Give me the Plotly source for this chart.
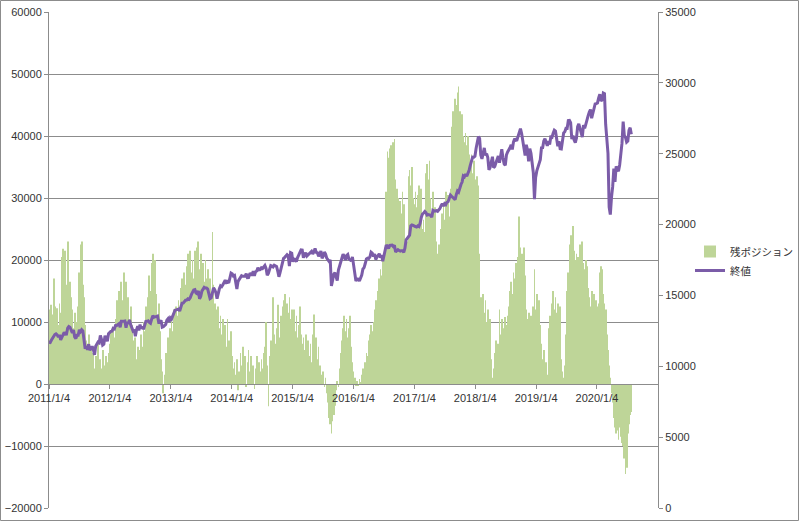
import pandas as pd
import plotly.graph_objects as go

# ---------------- data (weekly, Tuesdays from 2011/1/4) ----------------
start_date = "2011-01-04"

pos_2011 = [12000, 10500, 12800, 11200, 17000, 12500, 10000, 12200, 9500, 13000,
            11500, 20500, 21800, 15500, 21500, 16000, 23000, 15000, 16500, 14000,
            12000, 9000, 11500, 8500, 10000, 12500, 18000, 22500, 23000, 16000,
            14000, 9500, 7000, 5500, 8000, 4500, 6000, 3500, 5000, 2500,
            4500, 3000, 6500, 2800, 4000, 2500, 5500, 3000, 2000, 4500,
            3500, 5000]
pos_2012 = [6500, 8500, 5500, 9000, 7500, 10500, 13500, 12000, 15000, 14000,
            16500, 13500, 18000, 14500, 16500, 12000, 14000, 10500, 12500, 9500,
            7000, 5000, 7500, 4000, 6000, 3000, 5500, 8000, 6000, 10000,
            8500, 12500, 11000, 14000, 17500, 15000, 19500, 21000, 16000, 20000,
            14500, 11000, 13000, 8500, 4000, 2000, -1500, 1500, 5000, 3000,
            7500, 6000]
pos_2013 = [9000, 11000, 8500, 12000, 10000, 12500, 11000, 13500, 12000, 15500,
            17000, 14500, 18000, 16000, 19000, 21000, 17500, 21500, 18000, 20000,
            17000, 21500, 19000, 22000, 23000, 18500, 21000, 17500, 19500, 16500,
            20000, 17000, 18500, 15000, 17000, 14000, 24500, 16000, 13000, 12000,
            10000, 12500, 9000, 11000, 8000, 10500, 7500, 9500, 6000, 10500,
            7000, 5000, 8500]
pos_2014 = [4500, 2500, 3500, 1500, 4000, -1000, 2000, 5000, 3000, 6000,
            2500, 4500, -500, 3500, 5500, 2000, 4500, 1000, 3000, -800,
            2500, 4500, 1500, 3500, 2000, 4000, 2500, 5000, 6000, 10000,
            3000, -3600, 4500, 7000, 5500, 14000, 8000, 6500, 9000, 12800,
            7500, 6000, 11000, 12500, 13500, 14500, 12000, 13000, 11500, 14000,
            10500, 12000]
pos_2015 = [10000, 12000, 8500, 11000, 7500, 9500, 12500, 8000, 6500, 7500,
            5500, 8000, 6000, 7000, 4500, 6500, 3500, 8000, 11200, 5000,
            7500, 4000, 6000, 3000, 1500, 500, 2000, -500, 1000, -1500,
            -3000, -5500, -6500, -8000, -6000, -5000, -3500, -1000, 500, -500,
            2500, 5000, 7000, 9000, 11000, 8500, 10500, 7500, 9000, 11000,
            6000, 3500]
pos_2016 = [2000, 1000, -300, 500, -200, 800, 300, 1500, 2500, 1800,
            3500, 5000, 4500, 7000, 8000, 9500, 8500, 10000, 12000, 13500,
            12500, 15000, 17000, 18500, 17500, 20000, 19000, 22000, 31000, 37500,
            36500, 38000, 38500, 37000, 39000, 39500, 33000, 31500, 30000, 28000,
            29500, 27500, 31000, 29000, 22500, 20500, 23000, 33500, 34500, 32000,
            35000, 30000]
pos_2017 = [29000, 31000, 28500, 30500, 32000, 29500, 31500, 25000, 26500, 24500,
            34000, 35500, 33000, 36000, 30000, 27000, 31000, 26000, 28500, 23000,
            21000, 22500, 20500, 25000, 27500, 29000, 26500, 31000, 28000, 30500,
            27000, 31500, 41500, 44000, 43000, 46000, 45000, 47000, 48000, 44000,
            41000, 43500, 40000, 39000, 40500, 38500, 40000, 37000, 35500, 37000,
            34000, 36000]
pos_2018 = [33000, 31500, 33500, 32000, 21000, 14000, 12500, 14500, 11500, 13500,
            10000, 12000, 9000, 10500, 4000, 1000, 2500, 5000, 7000, 4500,
            6500, 12000, 8000, 10500, 9000, 7800, 10800, 9500, 11000, 12500,
            15000, 16500, 14500, 18000, 17000, 19500, 18500, 20500, 27000, 22000,
            21000, 19000, 22000, 17500, 12000, 10500, 11500, 9000, 11000, 10000,
            12500, 18500]
pos_2019 = [12000, 14500, 10000, 13500, 9500, 6500, 4000, 5500, 2000, 3500,
            1500, 9000, 11000, 10000, 13000, 15000, 12000, 14000, 11500, 13000,
            10000, 12500, 4000, 2000, 1000, 3000, 8000, 15000, 18000, 22500,
            24000, 22000, 25500, 21500, 20000, 21000, 20500, 19500, 22500, 20000,
            23000, 19500, 18500, 20000, 19000, 15500, 14000, 12500, 15000, 13000,
            14500, 12000, 13500]
pos_2020 = [12500, 13000, 18000, 19000, 18500, 14500, 13000, 12000, 8000, 5500,
            3000, 1000, -1500, -3000, -5500, -7000, -8000, -7500, -9000, -7000,
            -8500, -9500, -10000, -12000, -14500, -13500, -8000, -6500, -5000, -4500]

close_2011 = [11691, 11672, 11838, 11977, 12041, 12240, 12288, 12213, 12058, 12214,
              11856, 12018, 12280, 12394, 12263, 12266, 12690, 12808, 12760, 12479,
              12356, 12570, 12070, 11953, 12190, 12188, 12569, 12447, 12588, 12502,
              11867, 11240, 11406, 11176, 11560, 11139, 11247, 11409, 11191, 10809,
              11416, 11577, 11707, 11658, 12170, 11906, 11494, 11555, 12150, 11955,
              11767, 12291]
close_2012 = [12397, 12462, 12482, 12675, 12633, 12878, 12878, 12966, 13005, 12759,
              13177, 13170, 13197, 13199, 12716, 13115, 13001, 13279, 12932, 12632,
              12503, 12580, 12127, 12574, 12837, 12535, 12943, 12653, 12805, 12617,
              13009, 13168, 13172, 13203, 13102, 13036, 13323, 13564, 13458, 13482,
              13473, 13551, 13102, 13107, 13245, 12756, 12788, 12878, 12951, 13248,
              13350, 13139]
close_2013 = [13412, 13329, 13535, 13780, 13955, 13979, 14019, 14036, 13901, 14254,
              14450, 14456, 14560, 14662, 14673, 14757, 14719, 14840, 15056, 15215,
              15388, 15409, 15177, 15122, 15318, 14760, 14932, 15300, 15451, 15568,
              15521, 15518, 15451, 15002, 14776, 14834, 15191, 15529, 15401, 15191,
              14776, 15168, 15467, 15680, 15618, 15751, 15967, 16072, 15914, 15973,
              15875, 16357, 16577]
close_2014 = [16530, 16374, 16414, 15929, 15445, 15994, 16130, 16179, 16395, 16351,
              16337, 16367, 16533, 16256, 16263, 16514, 16535, 16401, 16715, 16375,
              16675, 16722, 16945, 16808, 16818, 16956, 16906, 17060, 17113, 16912,
              16430, 16560, 16919, 17107, 17067, 17014, 17131, 17056, 17043, 16719,
              16315, 16614, 17005, 17384, 17614, 17687, 17815, 17879, 17801, 17068,
              18024, 17983]
close_2015 = [17371, 17614, 17515, 17387, 17666, 17868, 18047, 18209, 18203, 17662,
              17849, 18011, 17776, 17875, 17977, 18034, 18110, 17928, 18068, 18312,
              18041, 18011, 17764, 17904, 18144, 17619, 17776, 18053, 17920, 17631,
              17550, 17402, 17512, 15666, 16058, 16492, 16600, 16330, 16049, 16790,
              17081, 17217, 17581, 17918, 17758, 17489, 17812, 17888, 17568, 17524,
              17418, 17720]
close_2016 = [17158, 16516, 16016, 16167, 16153, 16014, 16196, 16431, 16865, 16964,
              17251, 17582, 17633, 17603, 17721, 18053, 17990, 17750, 17928, 17530,
              17706, 17787, 17938, 17675, 17830, 17410, 17841, 18347, 18559, 18473,
              18313, 18533, 18552, 18547, 18454, 18538, 18066, 18129, 18228, 18168,
              18129, 18162, 18169, 18037, 18332, 18923, 19023, 19121, 19251, 19911,
              19974, 19945]
close_2017 = [19882, 19855, 19826, 19912, 19864, 20090, 20504, 20744, 20812, 20924,
              20837, 20668, 20701, 20689, 20651, 20523, 20996, 20950, 20975, 20980,
              20937, 21029, 21136, 21328, 21467, 21310, 21479, 21409, 21574, 21613,
              21964, 22085, 21998, 21899, 21865, 21753, 22118, 22370, 22284, 22641,
              22831, 22997, 23441, 23377, 23557, 23409, 23590, 23836, 24180, 24505,
              24754, 24746]
close_2018 = [24824, 25385, 25793, 26211, 26077, 24913, 24640, 24964, 25410, 24884,
              25007, 24727, 23858, 24034, 24408, 24787, 24025, 24100, 24361, 24706,
              24834, 24361, 24799, 25320, 24701, 24284, 24175, 24920, 25120, 25241,
              25415, 25628, 25300, 25822, 26064, 25952, 25971, 26246, 26492, 26773,
              26430, 25798, 25191, 24874, 25635, 25286, 24465, 25366, 25027, 24370,
              23675, 21792]
close_2019 = [23327, 23787, 24065, 24404, 24579, 25411, 25425, 25891, 26057, 25806,
              25554, 25887, 25657, 26179, 26150, 26452, 26656, 26592, 25965, 25532,
              25877, 25347, 25332, 26048, 26465, 26548, 26786, 26783, 27335, 27349,
              27198, 26030, 26280, 25962, 25778, 26118, 26909, 27110, 26808, 26573,
              26165, 27024, 26788, 27071, 27492, 27691, 27934, 28121, 27503, 27881,
              28267, 28515, 28538]
close_2020 = [28584, 28940, 29197, 28723, 28808, 29276, 29232, 27082, 25917, 25018,
              21237, 20704, 21917, 22654, 23949, 23019, 24101, 23883, 23765, 24207,
              24995, 25742, 27272, 26290, 26156, 25813, 25890, 26643, 26840, 26380]

tick_dates = ["2011-01-04", "2012-01-04", "2013-01-04", "2014-01-04", "2015-01-04",
              "2016-01-04", "2017-01-04", "2018-01-04", "2019-01-04", "2020-01-04"]
tick_labels = ["2011/1/4", "2012/1/4", "2013/1/4", "2014/1/4", "2015/1/4",
               "2016/1/4", "2017/1/4", "2018/1/4", "2019/1/4", "2020/1/4"]

series_names = ["残ポジション", "終値"]

position = (pos_2011 + pos_2012 + pos_2013 + pos_2014 + pos_2015 + pos_2016
            + pos_2017 + pos_2018 + pos_2019 + pos_2020)
close = (close_2011 + close_2012 + close_2013 + close_2014 + close_2015 + close_2016
         + close_2017 + close_2018 + close_2019 + close_2020)
dates = pd.date_range(start_date, periods=len(position), freq="7D")

# ---------------- figure ----------------
GRID = "#8c8c8c"
TXT = "#333333"
FONT = "Liberation Sans, Arial, sans-serif"

fig = go.Figure()
fig.add_trace(go.Bar(x=dates, y=position, name=series_names[0],
                     marker=dict(color="#bed598", line=dict(width=0)),
                     yaxis="y"))
fig.add_trace(go.Scatter(x=dates, y=close, name=series_names[1], mode="lines",
                         line=dict(color="#7b5ca8", width=3),
                         yaxis="y2"))

L, R, T, B = 49, 142, 12, 14
W, H = 800, 522
pw, ph = W - L - R, H - T - B

fig.update_layout(
    width=W, height=H,
    margin=dict(l=L, r=R, t=T, b=B, pad=0, autoexpand=False),
    paper_bgcolor="white", plot_bgcolor="white",
    bargap=0.35,
    font=dict(family=FONT, size=11, color=TXT),
    xaxis=dict(type="date", range=["2011-01-04", "2021-01-04"],
               tickmode="array", tickvals=tick_dates, ticktext=tick_labels,
               showgrid=False, zeroline=False, automargin=False,
               showline=True, linecolor=GRID, linewidth=1,
               ticks="outside", ticklen=4, tickcolor=GRID,
               anchor="free", position=0.25,
               tickfont=dict(family=FONT, size=11, color=TXT)),
    yaxis=dict(range=[-20000, 60000], dtick=10000, tick0=0, tickformat="d",
               showgrid=True, gridcolor=GRID, gridwidth=1, automargin=False,
               zeroline=False, showline=True, linecolor=GRID, linewidth=1,
               ticks="outside", ticklen=4, tickcolor=GRID,
               tickfont=dict(family=FONT, size=11, color=TXT)),
    yaxis2=dict(range=[0, 35000], dtick=5000, tick0=0, tickformat="d",
                overlaying="y", side="right", automargin=False,
                showgrid=False, zeroline=False, showline=True, linecolor=GRID,
                linewidth=1, ticks="outside", ticklen=4, tickcolor=GRID,
                tickfont=dict(family=FONT, size=11, color=TXT)),
    showlegend=True,
    legend=dict(x=(690 - L) / pw, y=(H - B - 237) / ph, xanchor="left", yanchor="top",
                bgcolor="rgba(0,0,0,0)", borderwidth=0,
                font=dict(family="Noto Sans CJK JP", size=10.5, color=TXT),
                tracegroupgap=0),
)

# chart-area border
fig.add_shape(type="rect", xref="paper", yref="paper",
              x0=(0.5 - L) / pw, x1=(W - 1.5 - L) / pw,
              y0=(H - B - (H - 1.5)) / ph, y1=(H - B - 0.5) / ph,
              line=dict(color="#8c8c8c", width=1), fillcolor="rgba(0,0,0,0)",
              layer="below")

fig.write_html("out.html")
